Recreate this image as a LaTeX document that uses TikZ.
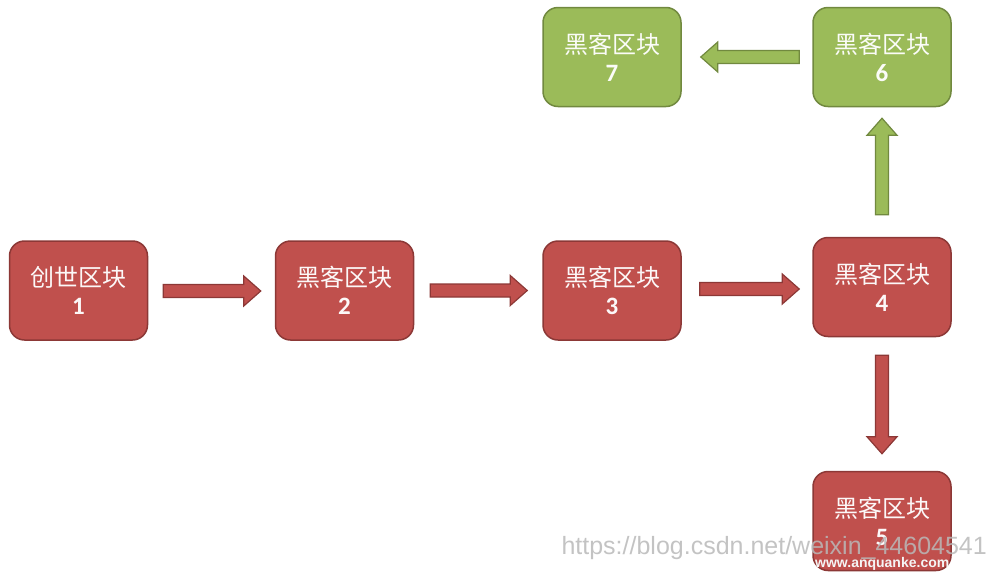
\documentclass[tikz,border=0pt]{standalone}
\usepackage{fontspec}
\setmainfont{Carlito}
\newfontfamily\cjk{Noto Sans CJK SC}
\newfontfamily\wm{Liberation Sans}
\usetikzlibrary{calc}
\definecolor{redfill}{HTML}{C0504D}
\definecolor{redline}{HTML}{8C3836}
\definecolor{greenfill}{HTML}{9BBB59}
\definecolor{greenline}{HTML}{71893F}
\newcommand\dg[1]{{\bfseries\fontsize{25}{28}\selectfont #1}}
\tikzset{
  blk/.style={draw=#1line, fill=#1fill, line width=1.5pt, rounded corners=15pt,
    minimum width=138pt, minimum height=99pt, inner sep=0pt, align=center,
    text=white!96!#1fill, font=\fontsize{24}{28}\selectfont},
  barr/.style={draw=#1line, fill=#1fill, line width=1.2pt, line join=miter},
}
\newcommand\blockarrow[3]{%
  \coordinate (tmpN) at ($(#3)!17pt!(#2)$);
  \draw[barr=#1] ($(#2)!6.5pt!90:(#3)$) -- ($(tmpN)!6.5pt!90:(#3)$) -- ($(tmpN)!15pt!90:(#3)$)
    -- (#3) -- ($(tmpN)!15pt!-90:(#3)$) -- ($(tmpN)!6.5pt!-90:(#3)$) -- ($(#2)!6.5pt!-90:(#3)$) -- cycle;}
\begin{document}
\begin{tikzpicture}[x=1pt,y=-1pt]
\path[use as bounding box] (0,0) rectangle (990,573);
\node[blk=red] (b1) at (78.5,290.5) {{\cjk 创世区块}\\\dg{1}};
\node[blk=red] (b2) at (344.5,290.5) {{\cjk 黑客区块}\\\dg{2}};
\node[blk=red] (b3) at (612,290.5) {{\cjk 黑客区块}\\\dg{3}};
\node[blk=red] (b4) at (882,287) {{\cjk 黑客区块}\\\dg{4}};
\node[blk=red] (b5) at (882,521) {{\cjk 黑客区块}\\\dg{5}};
\node[blk=green] (b6) at (882,57) {{\cjk 黑客区块}\\\dg{6}};
\node[blk=green] (b7) at (612,57) {{\cjk 黑客区块}\\\dg{7}};
% arrow end points
\coordinate (a12s) at ($(b1.east)+(15,0.5)$);
\coordinate (a12e) at ($(b2.west)+(-14,0.5)$);
\coordinate (a23s) at ($(b2.east)+(16,0)$);
\coordinate (a23e) at ($(b3.west)+(-15,0)$);
\coordinate (a34s) at ($(b3.east)+(18,-1.5)$);
\coordinate (a34e) at ($(b4.west)+(-13,2)$);
\coordinate (a45s) at ($(b4.south)+(0,18)$);
\coordinate (a45e) at ($(b5.north)+(0,-17)$);
\coordinate (a46s) at ($(b4.north)+(0,-22)$);
\coordinate (a46e) at ($(b6.south)+(0,11)$);
\coordinate (a67s) at ($(b6.west)+(-13,0)$);
\coordinate (a67e) at ($(b7.east)+(19,0)$);
\blockarrow{red}{a12s}{a12e}
\blockarrow{red}{a23s}{a23e}
\blockarrow{red}{a34s}{a34e}
\blockarrow{red}{a45s}{a45e}
\blockarrow{green}{a46s}{a46e}
\blockarrow{green}{a67s}{a67e}
% watermarks
\node[font=\wm\fontsize{25}{25}\selectfont, text=gray!55, opacity=0.85, anchor=east, inner sep=0pt] (wm1) at (987,548) {https://blog.csdn.net/weixin\_44604541};
\node[font=\wm\bfseries\fontsize{14}{14}\selectfont, text=white!92!gray, anchor=west, inner sep=0pt] (wm2) at (815,564) {www.anquanke.com};
\end{tikzpicture}
\end{document}
